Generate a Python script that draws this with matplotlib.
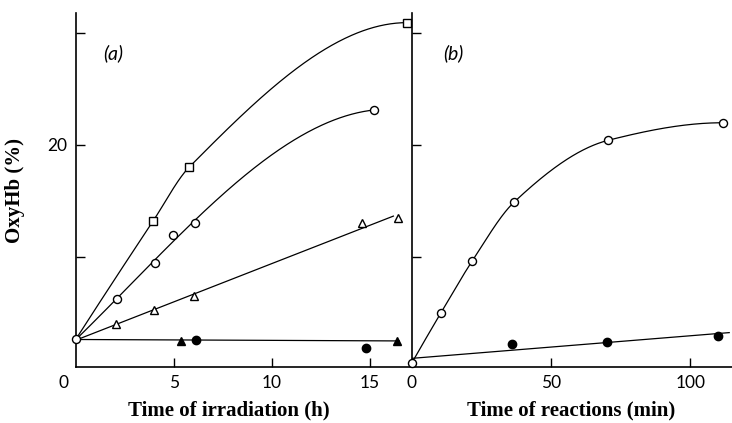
import numpy as np
import matplotlib
matplotlib.use("Agg")
import matplotlib.pyplot as plt

# ---------------- data ----------------
# panel (a): time of irradiation (h) vs OxyHb (%)
a_start_x, a_start_y = 0.0, 2.65
a_sq_x = [3.94, 5.78, 16.9]
a_sq_y = [13.2, 18.0, 30.9]
a_oc_x = [2.10, 4.02, 4.94, 6.08, 15.19]
a_oc_y = [6.2, 9.46, 11.9, 13.0, 23.1]
a_ot_x = [2.03, 4.00, 6.03, 14.6, 16.42]
a_ot_y = [4.0, 5.2, 6.46, 13.0, 13.45]
a_ft_x = [5.35, 16.39]
a_ft_y = [2.5, 2.5]
a_fc_x = [6.11, 14.8]
a_fc_y = [2.53, 1.82]

# panel (b): time of reactions (min) vs OxyHb (%)
b_oc_x = [0.0, 10.3, 21.7, 36.8, 70.6, 111.6]
b_oc_y = [0.54, 4.95, 9.64, 14.9, 20.4, 21.96]
b_fc_x = [36.0, 70.2, 110.0]
b_fc_y = [2.18, 2.41, 2.92]

y_ticks = [10, 20, 30]
y_ticklabels = ["", "20", ""]
a_xticks = [5, 10, 15]
b_xticks = [0, 50, 100]


def pchip(x, y, xn):
    x = np.asarray(x, float); y = np.asarray(y, float)
    h = np.diff(x); d = np.diff(y) / h
    n = len(x); m = np.zeros(n)
    for k in range(1, n - 1):
        if d[k - 1] * d[k] > 0:
            w1 = 2 * h[k] + h[k - 1]; w2 = h[k] + 2 * h[k - 1]
            m[k] = (w1 + w2) / (w1 / d[k - 1] + w2 / d[k])
    def endslope(h0, h1, d0, d1):
        s = ((2 * h0 + h1) * d0 - h0 * d1) / (h0 + h1)
        if np.sign(s) != np.sign(d0):
            s = 0.0
        elif np.sign(d0) != np.sign(d1) and abs(s) > abs(3 * d0):
            s = 3 * d0
        return s
    if n > 2:
        m[0] = endslope(h[0], h[1], d[0], d[1])
        m[-1] = endslope(h[-1], h[-2], d[-1], d[-2])
    else:
        m[:] = d[0]
    idx = np.clip(np.searchsorted(x, xn) - 1, 0, n - 2)
    t = (xn - x[idx]) / h[idx]
    h00 = 2 * t**3 - 3 * t**2 + 1; h10 = t**3 - 2 * t**2 + t
    h01 = -2 * t**3 + 3 * t**2; h11 = t**3 - t**2
    return h00 * y[idx] + h10 * h[idx] * m[idx] + h01 * y[idx + 1] + h11 * h[idx] * m[idx + 1]


fig = plt.figure(figsize=(7.32, 4.23), dpi=100)
ax1 = fig.add_axes([76 / 732, 56 / 423, 335 / 732, 354 / 423])
ax2 = fig.add_axes([412 / 732, 56 / 423, 320 / 732, 354 / 423])

lw = 0.9
tickfont = dict(family="Lato", size=12.5)
serif = ["Liberation Serif", "DejaVu Serif"]

for ax in (ax1, ax2):
    for s in ("top", "right"):
        ax.spines[s].set_visible(False)
    for s in ("left", "bottom"):
        ax.spines[s].set_linewidth(1.2)
    ax.set_ylim(0.15, 31.76)
    ax.set_yticks(y_ticks)
    ax.tick_params(direction="in", length=6.5, width=1.0, pad=6)
    ax.patch.set_alpha(0)

# ---- panel (a)
ax1.set_xlim(0, 17.1)
ax1.set_xticks(a_xticks)
ax1.set_xticklabels([str(v) for v in a_xticks], **tickfont)
ax1.set_yticklabels(y_ticklabels, **tickfont)
ax1.annotate("0", xy=(-0.64, 0), xycoords=("data", "axes fraction"),
             xytext=(0, -6), textcoords="offset points", ha="center", va="top",
             annotation_clip=False, **tickfont)

# squares curve
sx = [a_start_x] + a_sq_x; sy = [a_start_y] + a_sq_y
xs = np.linspace(sx[0], sx[-1], 300)
ax1.plot(xs, pchip(sx, sy, xs), color="black", lw=lw, zorder=2)
# open circles curve (cubic least-squares fit)
cx = np.array([a_start_x] + a_oc_x); cy = np.array([a_start_y] + a_oc_y)
pc = np.polyfit(cx, cy, 3)
xs = np.linspace(cx[0], cx[-1], 300)
ax1.plot(xs, np.polyval(pc, xs), color="black", lw=lw, zorder=2)
# open triangles line
tx = np.array([a_start_x] + a_ot_x); ty = np.array([a_start_y] + a_ot_y)
pt = np.polyfit(tx, ty, 1)
xs = np.linspace(tx[0], 16.2, 50)
ax1.plot(xs, np.polyval(pt, xs), color="black", lw=lw, zorder=2)
# filled line (through start point and filled triangles)
fx = np.array([a_start_x] + a_ft_x); fy = np.array([a_start_y] + a_ft_y)
pf = np.polyfit(fx, fy, 1)
xs = np.linspace(0, 16.5, 50)
ax1.plot(xs, np.polyval(pf, xs), color="black", lw=lw, zorder=2)

ms = 5.8
ax1.plot(a_sq_x, a_sq_y, "s", ms=5.6, mfc="white", mec="black", mew=1.0, ls="none",
         zorder=3, clip_on=False)
ax1.plot(a_oc_x, a_oc_y, "o", ms=ms, mfc="white", mec="black", mew=1.0, ls="none", zorder=3)
ax1.plot([a_start_x], [a_start_y], "o", ms=ms, mfc="white", mec="black", mew=1.0,
         ls="none", zorder=4, clip_on=False)
ax1.plot(a_ot_x, a_ot_y, "^", ms=5.8, mfc="white", mec="black", mew=1.0, ls="none", zorder=3)
ax1.plot(a_ft_x, a_ft_y, "^", ms=6.0, mfc="black", mec="black", ls="none", zorder=3)
ax1.plot(a_fc_x, a_fc_y, "o", ms=6.0, mfc="black", mec="black", ls="none", zorder=3)

ax1.text(0.11, 0.887, "(a)", transform=ax1.transAxes, fontsize=14, style="italic",
         family="Lato", ha="center", va="center")
ax1.set_xlabel("Time of irradiation (h)", family=serif, fontsize=15, fontweight="bold",
               labelpad=6)
ax1.xaxis.set_label_coords(0.457, -0.095)
ax1.set_ylabel("OxyHb (%)", family=serif, fontsize=15, fontweight="bold")
ax1.yaxis.set_label_coords(-0.153, 0.5)

# ---- panel (b)
ax2.set_xlim(0, 115)
ax2.set_xticks(b_xticks)
ax2.set_xticklabels([str(v) for v in b_xticks], **tickfont)
ax2.set_yticklabels([])

xs = np.linspace(b_oc_x[0], b_oc_x[-1], 400)
ax2.plot(xs, pchip(b_oc_x, b_oc_y, xs), color="black", lw=lw, zorder=2)
lx = np.array([b_oc_x[0]] + b_fc_x); ly = np.array([b_oc_y[0]] + b_fc_y)
pb = np.polyfit(lx, ly, 1)
xs = np.linspace(0, 114, 50)
ax2.plot(xs, np.polyval(pb, xs), color="black", lw=lw, zorder=2)

ax2.plot(b_oc_x, b_oc_y, "o", ms=ms, mfc="white", mec="black", mew=1.0, ls="none",
         zorder=4, clip_on=False)
ax2.plot(b_fc_x, b_fc_y, "o", ms=6.0, mfc="black", mec="black", ls="none", zorder=3)

ax2.text(0.13, 0.887, "(b)", transform=ax2.transAxes, fontsize=14, style="italic",
         family="Lato", ha="center", va="center")
ax2.set_xlabel("Time of reactions (min)", family=serif, fontsize=15, fontweight="bold")
ax2.xaxis.set_label_coords(0.497, -0.095)

fig.savefig("out.png", dpi=100)
